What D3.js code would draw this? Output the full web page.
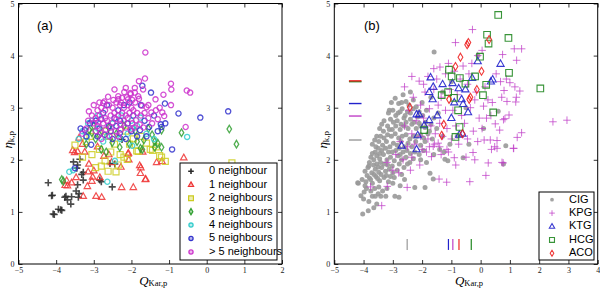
<!DOCTYPE html>
<html>
<head>
<meta charset="utf-8">
<script src="https://cdn.jsdelivr.net/npm/d3@7"></script>
<style>
  body { margin: 0; background: #fff; }
  svg { display: block; }
</style>
</head>
<body>
<div id="chart"></div>
<script>
// ---- panel (a): points per number of neighbours, [Q_Kar,p, eta_k,p]
const n0 = [[-4.21,1.56],[-4.10,1.32],[-4.05,0.95],[-3.94,1.05],[-3.85,1.03],[-3.74,1.30],[-3.70,1.23],[-3.61,1.15],[-3.59,1.29],[-3.47,1.40],[-3.41,1.28],[-3.39,1.35],[-3.43,1.52],[-3.28,1.61],[-3.54,1.96],[-3.37,2.01],[-3.43,1.90],[-3.32,1.72],[-3.28,1.76],[-2.84,1.61],[-2.80,1.58],[-2.51,1.48],[-2.44,1.92],[-2.57,1.93],[-3.45,1.84],[-3.77,1.28],[-3.88,1.04],[-4.08,0.96],[-4.12,1.31],[-2.25,2.39]];
const n1 = [[-0.61,2.04],[-1.33,1.95],[-1.19,1.97],[-1.75,1.85],[-1.76,1.74],[-1.63,1.62],[-1.95,1.47],[-2.26,1.47],[-2.79,1.28],[-2.94,1.30],[-3.28,1.30],[-3.17,1.49],[-3.56,2.18],[-3.43,2.16],[-3.72,1.60],[-3.70,1.50],[-3.59,1.56],[-3.47,1.66],[-2.28,1.86],[-2.07,2.00],[-2.09,2.11],[-2.84,1.66],[-3.00,1.79],[-3.13,1.92],[-3.39,2.42],[-3.51,2.14],[-3.24,2.15],[-3.15,1.77],[-3.03,1.67],[-3.05,1.59],[-3.76,1.51],[-2.08,2.13],[-1.78,1.89],[-1.62,1.63],[-2.53,1.95],[-2.73,2.07],[-2.60,2.10],[-1.70,2.15],[-2.90,2.25],[-3.30,2.30]];
const n2 = [[0.67,1.94],[-1.10,1.97],[-1.25,2.08],[-1.44,2.18],[-1.86,2.17],[-2.41,1.77],[-2.62,1.78],[-2.11,2.01],[-2.20,2.05],[-2.70,1.98],[-1.34,2.25],[-1.82,2.16],[-3.50,2.28],[-2.60,2.45],[-2.80,1.88],[-2.95,1.85],[-2.30,2.10],[-2.05,2.30],[-1.95,2.40],[-2.45,2.30],[-2.85,2.20],[-3.05,2.10],[-3.20,2.35],[-2.55,2.15],[-1.60,2.32],[-1.50,2.20],[-2.15,2.55],[-2.70,2.55],[-3.30,2.05],[-1.20,2.05],[-2.35,1.90],[-3.10,2.45],[-1.75,2.45]];
const n3 = [[0.60,2.59],[0.79,2.30],[-0.67,2.52],[-1.20,2.24],[-1.20,2.57],[-1.38,2.24],[-1.71,2.20],[-3.81,1.59],[-3.85,1.62],[-3.12,2.57],[-3.05,2.52],[-1.76,2.22],[-1.38,2.35],[-1.30,2.32],[-1.67,2.38],[-2.80,2.20],[-2.67,2.15],[-2.51,2.33],[-2.31,2.24],[-2.05,2.30],[-2.40,2.50],[-2.95,2.40],[-1.90,2.55],[-1.55,2.60],[-2.60,2.62],[-3.20,2.30],[-2.20,2.65],[-1.45,2.48],[-2.85,2.48],[-1.85,2.35],[-3.00,2.65]];
const n4 = [[-0.52,2.44],[-2.64,1.58],[-3.65,1.77],[-3.55,1.80],[-3.15,2.70],[-2.26,2.85],[-2.89,2.60],[-3.19,2.44],[-1.98,2.60],[-1.76,2.81],[-2.44,1.98],[-1.98,2.27],[-2.30,2.40],[-2.75,2.35],[-3.05,2.75],[-2.50,2.70],[-1.60,2.50],[-2.10,2.50],[-3.30,2.55],[-2.00,2.75],[-2.65,2.45],[-1.40,2.40],[-2.90,2.85],[-1.85,2.65],[-3.40,2.40]];
const n5 = [[0.57,2.93],[-0.17,2.81],[-0.75,2.89],[-0.92,2.20],[-1.11,3.08],[-1.22,2.68],[-1.20,2.63],[-1.48,3.29],[-1.71,3.42],[-3.50,1.84],[-3.24,2.57],[-3.07,2.29],[-2.71,2.48],[-2.31,2.51],[-1.77,2.57],[-1.53,2.63],[-2.95,2.75],[-2.45,2.80],[-2.60,2.65],[-2.35,2.95],[-2.10,2.70],[-1.95,2.85],[-2.20,3.05],[-2.75,2.90],[-2.85,2.60],[-3.10,2.70],[-1.85,2.45],[-2.50,2.40],[-2.00,2.55],[-1.65,2.75],[-2.65,3.05],[-2.40,2.65],[-1.40,2.85],[-1.30,2.55],[-2.90,2.45],[-2.15,2.40],[-3.35,2.60],[-3.20,2.45],[-1.75,3.05],[-2.55,2.55],[-2.30,2.75],[-1.10,2.70],[-1.60,2.45],[-2.80,2.78],[-2.05,3.10]];
const n6 = [[-1.63,4.06],[-1.64,3.56],[-1.80,3.51],[-1.91,3.38],[-1.69,3.35],[-0.95,3.46],[-0.94,3.35],[-1.15,3.25],[-0.53,3.33],[-0.44,3.29],[-1.36,3.16],[-0.95,3.05],[-0.56,2.63],[-3.13,2.93],[-2.62,3.21],[-2.75,3.09],[-2.19,3.30],[-2.25,3.19],[-2.35,3.16],[-2.09,3.16],[-2.02,3.26],[-1.91,3.29],[-1.80,3.17],[-1.72,3.04],[-1.60,3.01],[-1.47,2.91],[-1.18,2.91],[-1.13,2.84],[-2.03,3.28],
  [-2.90,2.95],[-2.80,3.00],[-2.70,2.95],[-2.60,3.05],[-2.50,3.00],[-2.40,3.10],[-2.30,3.05],[-2.20,3.00],[-2.10,3.05],[-2.00,3.00],[-1.90,3.10],[-2.95,2.80],[-2.85,2.85],[-2.70,2.80],[-2.55,2.85],[-2.45,2.90],[-2.35,2.85],[-2.25,2.90],[-2.15,2.85],[-2.05,2.90],[-1.95,2.95],[-1.85,2.90],[-1.75,2.85],[-1.65,2.90],[-1.55,2.80],[-3.00,2.70],[-2.90,2.65],[-2.75,2.70],[-2.65,2.75],[-2.50,2.72],[-2.40,2.78],[-2.30,2.68],[-2.20,2.75],[-2.10,2.80],[-1.98,2.70],[-1.88,2.76],[-1.78,2.68],[-1.68,2.62],[-2.95,2.55],[-2.82,2.52],[-2.68,2.58],[-2.55,2.62],[-2.42,2.55],[-2.28,2.58],[-2.15,2.62],[-2.02,2.58],[-1.92,2.62],[-2.48,3.15],[-2.35,3.22],[-2.28,3.10],[-2.12,3.20],[-1.98,3.15],[-2.72,3.12],[-2.85,3.10],[-3.05,2.85],[-3.15,2.75],[-3.20,2.60],[-1.45,2.70],[-1.35,2.95],[-1.25,3.00],[-1.55,3.05],[-2.58,2.45],[-2.35,2.45],[-2.80,2.40],[-3.30,2.50],[-1.30,2.78],[-2.45,3.35],[-2.15,3.38],[-1.82,3.22],[-3.00,3.05],[-2.88,2.72]];

const labelsA = ["0 neighbour", "1 neighbour", "2 neighbours", "3 neighbours", "4 neighbours", "5 neighbours", "> 5 neighbours"];

// ---- panel (b): samples
const cig = [[-1.59,4.07],[-0.09,4.00],[0.60,2.93],[0.86,2.27],[0.78,1.92],[-0.60,2.04],[-1.22,2.01],[-1.12,1.98],[-1.73,1.74],[-1.62,1.63],[-1.90,1.47],[-2.25,1.47],[-2.79,1.28],[-2.93,1.30],[-3.24,1.30],[-3.55,1.15],[-3.84,1.02],[-4.03,0.96],[-4.09,1.31],[-4.18,1.55],[-4.20,1.56],[-3.41,1.30],[-3.60,1.30],[-0.40,2.30],[0.10,2.60],[-0.50,3.00],[-1.00,3.50],[-1.30,3.30],[-3.12,2.95],
  [-4.05,1.62],[-3.92,1.58],[-3.80,1.65],[-3.70,1.55],[-3.58,1.68],[-3.45,1.60],[-3.30,1.66],[-3.15,1.58],[-3.90,1.45],[-3.75,1.40],[-3.62,1.45],[-3.48,1.48],[-3.98,1.38],[-3.70,1.30],[-3.50,1.35],
  [-3.95,1.78],[-3.85,1.85],[-3.72,1.75],[-3.60,1.82],[-3.48,1.76],[-3.38,1.85],[-3.25,1.78],[-3.12,1.82],[-3.00,1.75],[-2.85,1.80],[-2.70,1.72],[-3.55,1.92],[-3.42,1.95],[-3.80,1.95],
  [-3.75,2.05],[-3.65,2.00],[-3.55,2.08],[-3.45,2.02],[-3.32,2.10],[-3.20,2.00],[-3.08,2.05],[-2.95,1.98],[-2.82,2.08],[-2.70,2.00],[-2.55,2.05],[-2.42,1.95],[-2.30,2.02],[-3.60,2.15],[-3.38,2.18],[-3.15,2.15],[-2.90,2.18],[-2.65,2.15],[-2.10,2.10],
  [-3.70,2.30],[-3.58,2.25],[-3.48,2.35],[-3.35,2.28],[-3.22,2.35],[-3.10,2.25],[-2.98,2.32],[-2.85,2.28],[-2.72,2.35],[-2.60,2.25],[-2.48,2.32],[-2.35,2.25],[-2.22,2.35],[-2.05,2.28],[-1.90,2.35],[-3.55,2.45],[-3.30,2.42],[-3.05,2.45],[-2.80,2.42],[-2.55,2.48],[-2.30,2.45],[-2.05,2.48],[-1.80,2.50],
  [-3.45,2.60],[-3.32,2.55],[-3.18,2.65],[-3.02,2.58],[-2.90,2.65],[-2.75,2.58],[-2.62,2.65],[-2.48,2.60],[-2.35,2.68],[-2.20,2.60],[-2.05,2.65],[-1.90,2.62],[-1.70,2.68],[-3.30,2.75],[-3.08,2.78],[-2.85,2.75],[-2.62,2.80],[-2.40,2.78],[-2.15,2.82],[-1.60,2.80],
  [-3.15,2.90],[-3.00,2.95],[-2.82,2.90],[-2.68,2.98],[-2.50,2.92],[-2.30,2.98],[-2.10,2.92],[-1.85,2.95],[-3.05,3.10],[-2.80,3.08],[-2.55,3.12],[-2.30,3.15],[-2.00,3.10],[-2.65,3.25],[-2.40,3.30],[-1.70,3.20],
  [-3.88,1.70],[-3.76,1.62],[-3.64,1.72],[-3.52,1.64],[-3.40,1.72],[-3.22,1.70],[-3.08,1.68],[-2.95,1.66],[-3.82,1.88],[-3.66,1.90],[-3.50,1.86],[-3.30,1.92],[-3.18,1.90],[-3.02,1.88],[-2.78,1.92],[-2.62,1.85],[-2.50,1.92],[-3.70,2.12],[-3.50,2.22],[-3.45,2.12],[-3.25,2.22],[-3.02,2.15],[-2.78,2.22],[-2.75,2.10],[-2.52,2.18],[-2.40,2.12],[-2.25,2.15],[-3.62,2.38],[-3.42,2.45],[-3.18,2.48],[-2.92,2.50],[-2.68,2.45],[-2.42,2.40],[-2.18,2.45],[-1.95,2.42],[-3.38,2.68],[-3.12,2.58],[-2.98,2.72],[-2.72,2.68],[-2.55,2.72],[-2.28,2.72],[-2.10,2.70],[-1.98,2.85],[-2.90,2.85],[-2.75,2.92],[-2.58,2.85],[-2.40,2.90],[-2.20,3.02],[-2.92,3.18],[-2.70,3.10],[-2.45,3.05],[-1.88,2.72],[-1.75,2.55],[-1.65,2.40],[-2.05,2.00],[-1.95,2.18],[-1.85,1.95],[-1.60,2.10],[-1.40,2.20],[-1.30,2.45],[-1.50,2.60],[-1.45,2.90],[-1.25,2.15],[-1.05,2.30],[-0.80,2.45],[-3.95,1.50],[-4.00,1.25],[-3.82,1.20],[-3.65,1.08],[-3.35,1.40],[-3.20,1.45],[-3.00,1.55],[-2.75,1.50],[-2.60,1.62]];
const kpg = [[-0.28,4.50],[-0.86,4.25],[0.05,4.10],[0.75,4.02],[1.15,4.13],[1.40,4.13],[1.23,3.91],[-2.10,3.51],[-1.39,3.78],[2.47,2.73],[2.95,2.76],[1.34,3.32],[1.17,3.40],[1.20,3.11],[1.22,3.20],[0.90,3.12],[0.97,2.86],[0.83,2.79],[1.40,2.52],[1.25,2.43],[1.13,2.22],[0.77,1.94],[0.26,1.94],[0.18,1.70],[0.37,2.20],[0.56,2.22],[0.12,2.38],[0.33,2.38],[0.56,2.37],[0.65,2.57],[0.50,2.69],[0.78,2.77],[0.72,3.20],[0.68,3.50],[0.88,3.55],[1.00,3.48],[0.53,3.65],[-0.10,4.00],[0.80,3.33],[0.10,3.03],[0.35,2.85],
  [0.48,2.25],[1.12,2.22],[0.73,1.95],[-0.26,2.14],[-0.20,2.00],[-0.50,2.05],[-0.90,2.04],[-0.85,1.90],[-1.15,2.20],[-1.35,2.10],[-1.16,1.57],[-1.42,1.63],[-0.37,1.58],[-2.51,1.47],[-3.38,1.12],[-3.76,1.48],[-3.19,1.49],[-1.85,2.15],[-1.68,2.06],[-2.08,1.90],[-1.62,2.26],[-1.58,2.30],[-1.45,2.32],
  [-1.80,3.60],[-1.50,3.55],[-1.20,3.65],[-0.90,3.70],[-0.60,3.80],[-0.30,3.85],[-1.90,3.30],[-1.60,3.35],[-1.35,3.20],[-1.05,3.35],[-0.80,3.25],[-0.45,3.45],[-0.15,3.30],[0.15,3.40],[-2.30,3.20],[-2.05,3.05],[-1.75,2.98],[-1.45,3.05],[-1.20,2.95],[-0.95,2.95],[-0.65,2.85],[-0.35,3.00],[-0.05,2.80],[0.25,3.15],[-2.45,2.95],[-2.20,2.75],[-1.95,2.80],[-1.70,2.65],[-1.40,2.70],[-1.15,2.60],[-0.85,2.65],[-0.55,2.70],[-0.25,2.55],[0.05,2.60],[-2.60,2.65],[-2.35,2.50],[-2.05,2.45],[-1.80,2.40],[-1.55,2.50],[-1.30,2.45],[-1.00,2.40],[-0.75,2.30],[-0.45,2.40],[-0.10,2.35],[-2.75,2.35],[-2.50,2.25],[-2.25,2.30],[-2.00,2.20],[-1.75,2.25],[-1.40,2.25],[-1.10,2.15],[-2.90,2.10],[-2.65,2.00],[-2.35,2.05],[-3.00,1.80],[-2.80,1.75],[-3.20,1.95],[-2.40,1.80],[-1.95,3.45],[-2.60,3.40],[-0.70,3.55],[-1.10,3.85],[-0.40,3.65],[0.40,3.10],[0.20,2.80],[-0.20,3.15],[-1.60,3.75],[-2.35,3.60]];
const ktg = [[-0.10,3.89],[0.68,3.84],[-1.71,3.58],[-0.96,3.47],[-1.30,3.45],[-0.29,3.57],[0.41,3.54],[-0.52,3.35],[-1.76,3.30],[-1.64,3.16],[-0.65,3.16],[-0.60,3.07],[-2.19,2.87],[-2.10,2.87],[-1.48,2.85],[-1.76,2.76],[-1.93,2.66],[-2.15,2.47],[-0.43,2.91],[-0.73,2.48],[-0.62,2.50],[-2.70,2.27],[-2.19,2.20],[-0.90,3.10],[-0.75,3.37],[-1.62,3.40],[-1.00,2.80],[0.35,3.50]];
const hcg = [[0.60,4.78],[0.22,4.40],[0.27,4.23],[0.95,4.34],[0.97,3.67],[2.04,3.37],[0.19,3.44],[0.08,3.24],[0.43,2.91],[-1.08,3.73],[-0.99,3.60],[-0.71,3.57],[-0.52,3.46],[-0.19,3.60],[-0.02,3.98],[-1.11,3.30],[-1.33,3.24],[-0.91,3.19],[-0.77,2.95],[-0.86,2.44],[-0.72,2.63],[-1.93,2.57]];
const aco = [[-0.46,4.21],[-0.42,4.25],[-0.69,3.97],[-0.86,3.79],[0.03,3.70],[-0.13,3.35],[-0.39,3.16],[-0.35,3.20],[-2.42,3.01],[-1.26,2.68],[-1.33,2.47],[0.29,4.31],[-1.08,3.16],[-0.62,2.50]];

const labelsB = ["CIG", "KPG", "KTG", "HCG", "ACO"];
// medians of each sample
const medianQ = [-2.51, -0.95, -1.10, -0.32, -0.74];
const medianEta = [2.38, 2.84, 3.08, 3.50, 3.50];

const xTicksA = [-5, -4, -3, -2, -1, 0, 1, 2];
const xTicksB = [-5, -4, -3, -2, -1, 0, 1, 2, 3, 4];
const yTicks = [0, 1, 2, 3, 4, 5];

// ---- drawing
const width = 600;
const height = 288;
const svg = d3.select("#chart")
  .append("svg")
    .attr("width", width)
    .attr("height", height);

const yScale = d3.scaleLinear().domain([0, 5]).range([264, 3.5]);
const xScaleA = d3.scaleLinear().domain([-5, 2]).range([18.5, 282]);
const xScaleB = d3.scaleLinear().domain([-5, 4]).range([334.3, 597.7]);
const intFormat = d3.format("d");

const markerPath = (shape, s) => {
  if (shape === "plus") return `M${-s},0H${s}M0,${-s}V${s}`;
  if (shape === "triangle") return `M0,${-s}L${s * 0.9},${s * 0.6}L${-s * 0.9},${s * 0.6}Z`;
  if (shape === "square") return `M${-s},${-s}H${s}V${s}H${-s}Z`;
  if (shape === "diamond") return `M0,${-s}L${s * 0.6},0L0,${s}L${-s * 0.6},0Z`;
  return d3.arc()({innerRadius: 0, outerRadius: s, startAngle: 0, endAngle: 2 * Math.PI});
};

const drawFrame = (xScale, xTicks) => {
  const [x0, x1] = xScale.range();
  const [y0, y1] = yScale.range();
  const g = svg.append("g");

  g.append("g")
    .attr("transform", `translate(0, ${y0})`)
    .call(d3.axisBottom(xScale).tickValues(xTicks).tickFormat(intFormat).tickSize(-4).tickPadding(3));
  g.append("g")
    .attr("transform", `translate(0, ${y1})`)
    .call(d3.axisTop(xScale).tickValues(xTicks).tickSize(-4).tickFormat(""));
  g.append("g")
    .attr("transform", `translate(${x0}, 0)`)
    .call(d3.axisLeft(yScale).tickValues(yTicks).tickFormat(intFormat).tickSize(-4).tickPadding(4));
  g.append("g")
    .attr("transform", `translate(${x1}, 0)`)
    .call(d3.axisRight(yScale).tickValues(yTicks).tickSize(-4).tickFormat(""));

  g.selectAll(".domain").remove();
  g.selectAll(".tick line").attr("stroke", "#000").attr("stroke-width", 0.8);
  g.selectAll(".tick text")
    .style("font-family", "'Liberation Serif', serif")
    .style("font-size", "8px")
    .attr("fill", "#222");

  g.append("rect")
    .attr("x", x0)
    .attr("y", y1)
    .attr("width", x1 - x0)
    .attr("height", y0 - y1)
    .attr("fill", "none")
    .attr("stroke", "#000")
    .attr("stroke-width", 1);

  // axis titles
  const xt = svg.append("text")
    .attr("x", (x0 + x1) / 2 + 3)
    .attr("y", 285.3)
    .attr("text-anchor", "middle")
    .style("font-family", "'Liberation Serif', serif");
  xt.append("tspan").text("Q").style("font-style", "italic").style("font-size", "13px");
  xt.append("tspan").text("Kar,p").attr("dy", 0.5).style("font-size", "8.5px");

  const yt = svg.append("text")
    .attr("transform", `translate(${x0 - 7}, ${(y0 + y1) / 2 + 6}) rotate(-90)`)
    .attr("text-anchor", "middle")
    .style("font-family", "'Liberation Serif', serif");
  yt.append("tspan").text("η").style("font-style", "italic").style("font-size", "13px");
  yt.append("tspan").text("k,p").attr("dy", 2).style("font-size", "9px");
};

const drawPoints = (xScale, data, shape, size, color, opts = {}) => {
  svg.append("g")
    .selectAll("path")
    .data(data)
    .join("path")
      .attr("transform", d => `translate(${xScale(d[0])}, ${yScale(d[1])})`)
      .attr("d", markerPath(shape, size))
      .attr("fill", opts.fill || "none")
      .attr("stroke", opts.fill ? "none" : color)
      .attr("stroke-width", opts.sw || 1.2)
      .attr("opacity", opts.opacity || 0.85);
};

// ---- panel (a)
drawFrame(xScaleA, xTicksA);

const seriesA = [
  {data: n0, shape: "plus", size: 3.5, color: "#2a2a2a", sw: 1.6},
  {data: n1, shape: "triangle", size: 3.6, color: "#ee3333", sw: 1.2},
  {data: n2, shape: "square", size: 3, color: "#cccc22", sw: 1.2},
  {data: n3, shape: "diamond", size: 3.8, color: "#33a033", sw: 1.3},
  {data: n4, shape: "circle", size: 2.6, color: "#33cccc", sw: 1.3},
  {data: n5, shape: "circle", size: 2.6, color: "#3333cc", sw: 1.3},
  {data: n6, shape: "circle", size: 2.6, color: "#cc33cc", sw: 1.3}
];
seriesA.forEach(s => drawPoints(xScaleA, s.data, s.shape, s.size, s.color, {sw: s.sw}));

svg.append("text")
  .text("(a)")
  .attr("x", 37)
  .attr("y", 30)
  .style("font-family", "'Liberation Sans', sans-serif")
  .style("font-size", "13px");

const legendA = svg.append("g");
legendA.append("rect")
  .attr("x", 180).attr("y", 163).attr("width", 97).attr("height", 97)
  .attr("fill", "#fff").attr("stroke", "#000").attr("stroke-width", 1);
seriesA.forEach((s, i) => {
  const y = 171.3 + i * 13.45;
  legendA.append("path")
    .attr("transform", `translate(191, ${y})`)
    .attr("d", markerPath(s.shape, s.size * 0.8))
    .attr("fill", s.shape === "plus" ? "none" : s.color)
    .attr("fill-opacity", 0.35)
    .attr("stroke", s.color)
    .attr("stroke-width", s.sw);
  legendA.append("text")
    .text(labelsA[i])
    .attr("x", 209)
    .attr("y", y)
    .attr("dominant-baseline", "middle")
    .style("font-family", "'Liberation Sans', sans-serif")
    .style("font-size", "11px");
});

// ---- panel (b)
drawFrame(xScaleB, xTicksB);

const seriesB = [
  {data: cig, shape: "circle", size: 2.5, color: "#999999", fill: "#999999", opacity: 0.9},
  {data: kpg, shape: "plus", size: 3.8, color: "#c040c8", sw: 1, opacity: 0.75},
  {data: ktg, shape: "triangle", size: 4, color: "#2222cc", sw: 1.1, opacity: 0.9},
  {data: hcg, shape: "square", size: 3.3, color: "#228822", sw: 1.1, opacity: 0.9},
  {data: aco, shape: "diamond", size: 4, color: "#ee2222", sw: 1.1, opacity: 0.9}
];
seriesB.forEach(s => drawPoints(xScaleB, s.data, s.shape, s.size, s.color, {fill: s.fill, sw: s.sw, opacity: s.opacity}));

// median markers: short horizontal ticks at the left, short vertical ticks at the bottom
seriesB.forEach((s, i) => {
  const shift = i === 4 ? -0.8 : 0;
  svg.append("line")
    .attr("x1", xScaleB(-4.5)).attr("x2", xScaleB(-4.07))
    .attr("y1", yScale(medianEta[i]) + shift)
    .attr("y2", yScale(medianEta[i]) + shift)
    .attr("stroke", s.color).attr("stroke-width", 1.4);
  svg.append("line")
    .attr("x1", xScaleB(medianQ[i])).attr("x2", xScaleB(medianQ[i]))
    .attr("y1", yScale(0.27)).attr("y2", yScale(0.48))
    .attr("stroke", s.color).attr("stroke-width", 1.2);
});

svg.append("text")
  .text("(b)")
  .attr("x", 364)
  .attr("y", 30)
  .style("font-family", "'Liberation Sans', sans-serif")
  .style("font-size", "13px");

const legendB = svg.append("g");
legendB.append("rect")
  .attr("x", 539).attr("y", 192).attr("width", 55).attr("height", 68)
  .attr("fill", "#fff").attr("stroke", "#000").attr("stroke-width", 1);
seriesB.forEach((s, i) => {
  const y = 199.7 + i * 13.4;
  legendB.append("path")
    .attr("transform", `translate(552, ${y})`)
    .attr("d", markerPath(s.shape, s.size * 0.75))
    .attr("fill", s.fill || "none")
    .attr("stroke", s.fill ? "none" : s.color)
    .attr("stroke-width", s.sw || 1)
    .attr("opacity", s.opacity);
  legendB.append("text")
    .text(labelsB[i])
    .attr("x", 569)
    .attr("y", y)
    .attr("dominant-baseline", "middle")
    .style("font-family", "'Liberation Sans', sans-serif")
    .style("font-size", "11px");
});
</script>
</body>
</html>
